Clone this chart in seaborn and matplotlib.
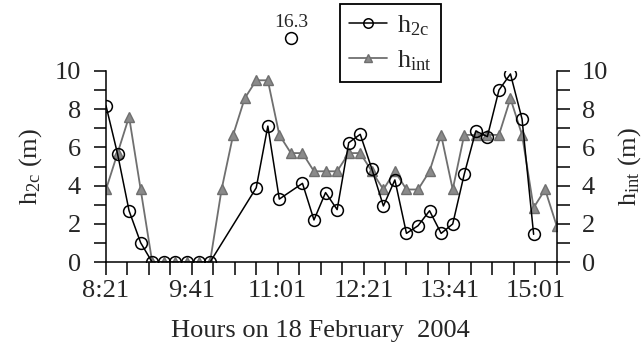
import numpy as np
import pandas as pd
import matplotlib
matplotlib.use("Agg")
import matplotlib.pyplot as plt
import seaborn as sns
from matplotlib.ticker import FixedLocator, MultipleLocator

# ---- data (minutes since midnight) ----
time_min = [501.0, 511.8, 522.5, 533.3, 544.1, 554.8, 565.6, 576.4, 587.2, 597.9,
            608.7, 619.5, 630.2, 641.0, 651.8, 662.5, 673.3, 684.1, 694.8, 705.6,
            716.4, 727.2, 737.9, 748.7, 759.5, 770.2, 781.0, 791.8, 802.5, 813.3,
            824.1, 834.8, 845.6, 856.4, 867.2, 877.9, 888.7, 899.5, 910.2, 921.0]
nan = np.nan
h2c = [8.17, 5.65, 2.69, 1.02, 0.0, 0.0, 0.0, 0.0, 0.0, 0.0,
       nan, nan, nan, 3.89, 7.11, 3.30, nan, 4.12, 2.21, 3.64,
       2.75, 6.24, 6.68, 4.88, 2.94, 4.30, 1.51, 1.91, 2.69, 1.51,
       2.00, 4.59, 6.85, 6.56, 8.99, 9.83, 7.48, 1.46, nan, nan]
h_int = [3.8, 5.7, 7.6, 3.8, 0.0, 0.0, 0.0, 0.0, 0.0, 0.0,
         3.8, 6.65, 8.55, 9.5, 9.5, 6.65, 5.7, 5.7, 4.75, 4.75,
         4.75, 5.7, 5.7, 4.75, 3.8, 4.75, 3.8, 3.8, 4.75, 6.65,
         3.8, 6.65, 6.65, 6.65, 6.65, 8.55, 6.65, 2.85, 3.8, 1.9]
outlier_time = 673.3
outlier_value = 16.3
tick_pos = [501, 581, 661, 741, 821, 901]
tick_labels = ["8:21", "9:41", "11:01", "12:21", "13:41", "15:01"]
minor_pos = [501, 521, 541, 561, 581, 601, 621, 641, 661, 681, 701,
             721, 741, 761, 781, 801, 821, 841, 861, 881, 901, 921]

df_c = pd.DataFrame({"t": time_min, "v": h2c}).dropna()
df_i = pd.DataFrame({"t": time_min, "v": h_int})

sns.set_theme(style="ticks")
plt.rcParams["font.family"] = ["Liberation Serif", "DejaVu Serif"]
plt.rcParams["mathtext.fontset"] = "custom"
plt.rcParams["mathtext.rm"] = "Liberation Serif"
plt.rcParams["mathtext.it"] = "Liberation Serif:italic"

fs = 19
fig = plt.figure(figsize=(6.42, 3.63), dpi=100)
ax = fig.add_axes([106/642, 1-262.3/363, (556.7-106)/642, (262.3-70.7)/363])

gray = "#6f6f6f"
sns.lineplot(data=df_i, x="t", y="v", ax=ax, color=gray, lw=1.3,
             marker="^", markersize=7, markerfacecolor="#8a8a8a",
             markeredgecolor=gray, markeredgewidth=1.0, label=r"$\mathrm{h_{int}}$",
             sort=False, estimator=None)
sns.lineplot(data=df_c, x="t", y="v", ax=ax, color="black", lw=1.1,
             marker="o", markersize=8.5, markerfacecolor="none",
             markeredgecolor="black", markeredgewidth=1.1, label=r"$\mathrm{h_{2c}}$",
             sort=False, estimator=None)

# off-scale point, drawn above the axis
ax.plot([outlier_time], [11.7], marker="o", ms=8.5, mfc="none", mec="black",
        mew=1.1, clip_on=False, ls="none")
ax.text(outlier_time, 12.05, f"{outlier_value}", ha="center", va="bottom",
        fontsize=14, clip_on=False)

ax.set_xlim(501, 921)
ax.set_ylim(0, 10)
ax.xaxis.set_major_locator(FixedLocator(tick_pos))
ax.set_xticklabels(tick_labels)
ax.xaxis.set_minor_locator(FixedLocator(minor_pos))
ax.yaxis.set_major_locator(MultipleLocator(2))
ax.yaxis.set_minor_locator(MultipleLocator(1))

ax.tick_params(which="both", direction="out", length=9, width=1.1,
               color="black", labelsize=fs)
ax.tick_params(axis="y", pad=9)
ax.tick_params(axis="x", pad=4)

ax2 = ax.twinx()
ax2.set_ylim(0, 10)
ax2.yaxis.set_major_locator(MultipleLocator(2))
ax2.yaxis.set_minor_locator(MultipleLocator(1))
ax2.tick_params(which="both", direction="out", length=9, width=1.1,
                color="black", labelsize=fs, pad=9)

for a in [ax, ax2]:
    a.spines["top"].set_visible(False)
    for s in ["left", "right", "bottom"]:
        a.spines[s].set_linewidth(1.1)
        a.spines[s].set_color("black")
ax.spines["right"].set_visible(False)
ax2.spines["left"].set_visible(False)
ax2.spines["bottom"].set_visible(False)

ax.set_xlabel("Hours on 18 February  2004", fontsize=fs)
ax.xaxis.set_label_coords(0.475, -0.30)
ax.set_ylabel(r"$\mathrm{h_{2c}}$ (m)", fontsize=fs, labelpad=8)
ax2.set_ylabel(r"$\mathrm{h_{int}}$ (m)", fontsize=fs, labelpad=6)

h, l = ax.get_legend_handles_labels()
if ax.legend_:
    ax.legend_.remove()
leg = fig.legend([h[1], h[0]], [l[1], l[0]], loc="upper left",
                 bbox_to_anchor=(340/642, 1-4/363), bbox_transform=fig.transFigure,
                 fontsize=fs, frameon=True, fancybox=False, framealpha=1,
                 edgecolor="black", handlelength=1.45, labelspacing=0.4,
                 borderpad=0.35, handletextpad=0.35, markerscale=0.8,
                 borderaxespad=0)
leg.get_frame().set_linewidth(1.3)

fig.savefig("out.png", dpi=100)
